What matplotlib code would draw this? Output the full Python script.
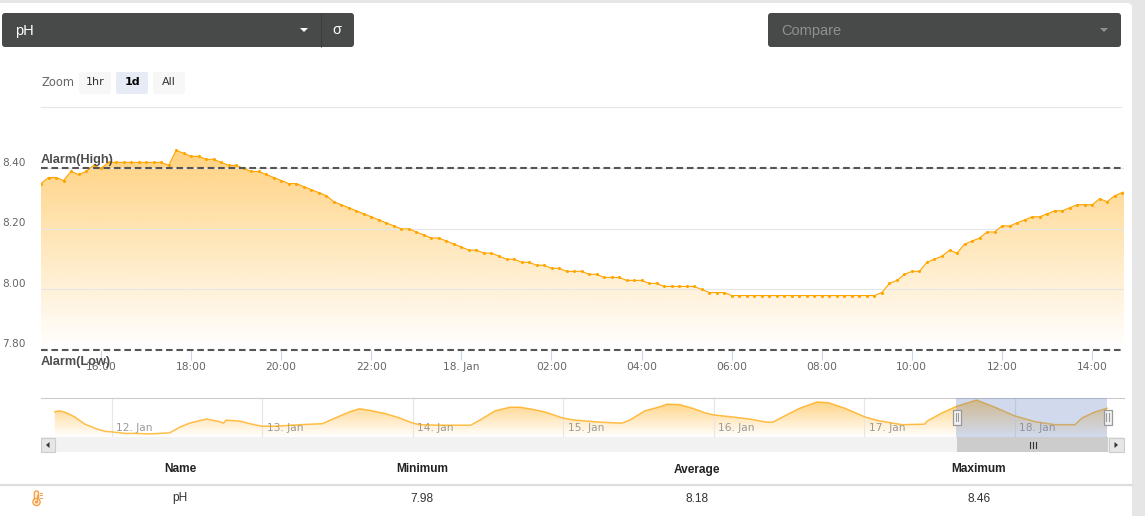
import numpy as np
import matplotlib
matplotlib.use("Agg")
import matplotlib.pyplot as plt
from matplotlib.patches import FancyBboxPatch, Rectangle, Polygon, Circle
from matplotlib.ticker import NullFormatter

# main series, one reading every 10 minutes from 14:40 on 17 Jan
start_hour = 14.67
ph_values = [8.35, 8.37, 8.37, 8.36, 8.39, 8.38, 8.39, 8.41, 8.40, 8.42,
             8.42, 8.42, 8.42, 8.42, 8.42, 8.42, 8.42, 8.41, 8.46, 8.45,
             8.44, 8.44, 8.43, 8.43, 8.42, 8.41, 8.41, 8.40, 8.39, 8.39,
             8.38, 8.37, 8.36, 8.35, 8.35, 8.34, 8.33, 8.32, 8.31, 8.29,
             8.28, 8.27, 8.26, 8.25, 8.24, 8.23, 8.22, 8.21, 8.20, 8.20,
             8.19, 8.18, 8.17, 8.17, 8.16, 8.15, 8.14, 8.13, 8.13, 8.12,
             8.12, 8.11, 8.10, 8.10, 8.09, 8.09, 8.08, 8.08, 8.07, 8.07,
             8.06, 8.06, 8.06, 8.05, 8.05, 8.04, 8.04, 8.04, 8.03, 8.03,
             8.03, 8.02, 8.02, 8.01, 8.01, 8.01, 8.01, 8.01, 8.00, 7.99,
             7.99, 7.99, 7.98, 7.98, 7.98, 7.98, 7.98, 7.98, 7.98, 7.98,
             7.98, 7.98, 7.98, 7.98, 7.98, 7.98, 7.98, 7.98, 7.98, 7.98,
             7.98, 7.98, 7.99, 8.02, 8.03, 8.05, 8.06, 8.06, 8.09, 8.10,
             8.11, 8.13, 8.12, 8.15, 8.16, 8.17, 8.19, 8.19, 8.21, 8.21,
             8.22, 8.23, 8.24, 8.24, 8.25, 8.26, 8.26, 8.27, 8.28, 8.28,
             8.28, 8.30, 8.29, 8.31, 8.32, 8.33]

# navigator series, hours counted from 17 Jan 00:00
nav_hours = [-129.1, -128.4, -127.4, -125.9, -124.3, -122.7, -121.1, -120.0, -117.9, -116.3,
             -114.0, -110.8, -109.2, -107.6, -106.0, -104.9, -102.8, -102.2, -101.8, -99.6,
             -98.0, -96.1, -94.0, -90.0, -86.4, -84.4, -82.1, -80.5, -78.5, -76.5,
             -74.1, -72.0, -70.9, -67.7, -62.8, -61.3, -58.9, -56.5, -54.9, -53.0,
             -51.0, -48.1, -46.2, -42.2, -38.7, -37.4, -35.0, -32.6, -31.5, -29.4,
             -28.9, -27.4, -25.4, -24.0, -21.0, -18.3, -15.6, -14.6, -12.4, -10.3,
             -7.6, -5.8, -3.1, 0.1, 2.2, 6.0, 9.6, 10.0, 12.4, 14.75,
             17.9, 20.8, 24.0, 27.2, 30.4, 33.6, 34.7, 36.8, 38.7]
nav_ph = [8.23, 8.25, 8.22, 8.13, 7.99, 7.91, 7.85, 7.84, 7.81, 7.81,
          7.80, 7.82, 7.93, 8.01, 8.06, 8.09, 8.04, 8.01, 8.07, 8.05,
          8.00, 7.95, 7.95, 7.98, 8.00, 8.11, 8.23, 8.29, 8.25, 8.20,
          8.11, 8.01, 7.98, 7.97, 7.97, 8.07, 8.25, 8.32, 8.32, 8.28,
          8.23, 8.11, 8.07, 8.03, 8.01, 8.07, 8.25, 8.33, 8.38, 8.37,
          8.35, 8.30, 8.21, 8.17, 8.13, 8.09, 8.03, 8.03, 8.17, 8.30,
          8.42, 8.41, 8.30, 8.13, 8.06, 7.98, 7.99, 8.05, 8.21, 8.34,
          8.46, 8.32, 8.15, 8.04, 7.98, 7.98, 8.11, 8.23, 8.30]

x_tick_hours = [16, 18, 20, 22, 24, 26, 28, 30, 32, 34, 36, 38]
x_tick_labels = ["16:00", "18:00", "20:00", "22:00", "18. Jan", "02:00", "04:00",
                 "06:00", "08:00", "10:00", "12:00", "14:00"]
y_ticks = [7.8, 8.0, 8.2, 8.4]
alarm_high = 8.4
alarm_low = 7.8
nav_day_hours = [-120, -96, -72, -48, -24, 0, 24]
nav_day_labels = ["12. Jan", "13. Jan", "14. Jan", "15. Jan", "16. Jan", "17. Jan", "18. Jan"]
table_headers = ["Name", "Minimum", "Average", "Maximum"]
table_row = ["pH", "7.98", "8.18", "8.46"]

W, H = 1145, 516
ORANGE = "#ffa500"
DARK = "#484a49"
SANS = "Liberation Sans"


def px_axes(fig, left, top, right, bottom, **kw):
    return fig.add_axes([left / W, 1 - bottom / H, (right - left) / W, (bottom - top) / H], **kw)


def gradient_fill(ax, x, y, base, top_alpha, top_y, bottom_y):
    # orange fading down to transparent, clipped to the area under the line
    rgb = matplotlib.colors.to_rgb(ORANGE)
    grad = np.zeros((256, 1, 4))
    grad[:, :, 0], grad[:, :, 1], grad[:, :, 2] = rgb
    grad[:, 0, 3] = np.linspace(top_alpha, 0.0, 256)
    xl, xr = ax.get_xlim()
    im = ax.imshow(grad, extent=[xl, xr, bottom_y, top_y], aspect="auto", origin="upper", zorder=1)
    poly = Polygon(list(zip(x, y)) + [(x[-1], base), (x[0], base)], transform=ax.transData,
                   facecolor="none", edgecolor="none")
    ax.add_patch(poly)
    im.set_clip_path(poly)
    ax.set_xlim(xl, xr)


fig = plt.figure(figsize=(W / 100, H / 100), dpi=100, facecolor="#e6e6e6")

# page layer, drawn in pixel coordinates
ui = fig.add_axes([0, 0, 1, 1], zorder=0)
ui.set_xlim(0, W)
ui.set_ylim(H, 0)
ui.axis("off")
ui.add_patch(FancyBboxPatch((-20, 3), 1152, 540, boxstyle="round,pad=0,rounding_size=5",
                            fc="white", ec="none"))


def box(x0, y0, x1, y1, fc, r=3, ec="none"):
    ui.add_patch(FancyBboxPatch((x0, y0), x1 - x0, y1 - y0, boxstyle=f"round,pad=0,rounding_size={r}",
                                fc=fc, ec=ec, lw=0.7))


# dropdowns
box(2, 13, 354, 47, DARK)
ui.plot([320.5, 320.5], [13, 47], color="#3c3d3d", lw=0.8, solid_capstyle="butt")
ui.text(15, 30.5, "pH", color="white", fontsize=10.5, family=SANS, va="center")
ui.add_patch(Polygon([(300, 28), (308, 28), (304, 32)], fc="white", ec="none"))
ui.text(337, 30.5, "σ", color="white", fontsize=10.5, family=SANS, va="center", ha="center")
box(768, 13, 1121, 47, DARK)
ui.text(781, 30.5, "Compare", color="#8f9190", fontsize=10.5, family=SANS, va="center")
ui.add_patch(Polygon([(1100, 28), (1108, 28), (1104, 32)], fc="#8f9190", ec="none"))

# zoom buttons
ui.text(41, 83, "Zoom", color="#666666", fontsize=8.3, va="center")
box(79, 72, 111, 94, "#f7f7f7", r=2)
box(116, 72, 148, 94, "#e6ebf5", r=2)
box(153, 72, 185, 94, "#f7f7f7", r=2)
ui.text(95, 82, "1hr", color="#333333", fontsize=8, ha="center", va="center")
ui.text(132.5, 82, "1d", color="black", fontsize=8, ha="center", va="center", weight="bold")
ui.text(169, 82, "All", color="#333333", fontsize=8, ha="center", va="center")

# main chart
ax = px_axes(fig, 41, 107, 1124, 350, zorder=1)
ax.patch.set_alpha(0)
times = start_hour + np.arange(len(ph_values)) / 6
ax.set_xlim(14.67, 38.71)
ax.set_ylim(7.8, 8.603)
gradient_fill(ax, times, ph_values, 7.8, 0.5, 8.46, 7.8)
ax.plot(times, ph_values, color=ORANGE, lw=0.8, marker="o", ms=1.2, zorder=3)
ax.axhline(alarm_high, color="#555555", lw=1.5, ls=(0, (3.2, 1.8)), zorder=4)
ax.axhline(alarm_low, color="#555555", lw=1.5, ls=(0, (3.2, 1.8)), zorder=4, clip_on=False)
ax.text(0, alarm_high + 0.007, "Alarm(High)", transform=ax.get_yaxis_transform(), color="#4d4d4d",
        fontsize=9.2, weight="bold", family=SANS, va="bottom", zorder=5)
ax.text(0, alarm_low - 0.02, "Alarm(Low)", transform=ax.get_yaxis_transform(), color="#4d4d4d",
        fontsize=9.2, weight="bold", family=SANS, va="top", zorder=5)

ax.set_yticks(y_ticks)
ax.yaxis.set_major_formatter(NullFormatter())
ax.grid(axis="y", color="#e6e6e6", lw=0.8, zorder=2)
ax.tick_params(axis="y", length=0)
for v in y_ticks:
    ax.annotate(f"{v:.2f}", xy=(0, v), xycoords=ax.get_yaxis_transform(),
                xytext=(-39 * 0.72, 4), textcoords="offset points",
                color="#666666", fontsize=7.6, va="center", ha="left", annotation_clip=False)
ax.set_xticks(x_tick_hours)
ax.set_xticklabels(x_tick_labels)
ax.tick_params(axis="x", length=7.2, width=0.8, color="#ccd6eb", labelcolor="#666666",
               labelsize=7.7, pad=1.5)
for s in ax.spines.values():
    s.set_visible(False)

# navigator
nav = px_axes(fig, 41, 398, 1124, 437, zorder=1)
nav.patch.set_alpha(0)
nav.set_xlim(-131.3, 41.4)
nav.set_ylim(7.74, 8.50)
gradient_fill(nav, nav_hours, nav_ph, 7.74, 0.5, 8.46, 7.74)
nav.plot(nav_hours, nav_ph, color=ORANGE, lw=1.1, alpha=0.7, zorder=3)
nav.set_xticks(nav_day_hours)
nav.grid(axis="x", color="#e6e6e6", lw=0.8, zorder=0)
nav.tick_params(length=0, labelbottom=False, labelleft=False)
nav.set_yticks([])
for h, lab in zip(nav_day_hours, nav_day_labels):
    nav.annotate(lab, xy=(h, 7.74), xycoords="data", xytext=(3.2, 3), textcoords="offset points",
                 color="#999999", fontsize=7.7, va="bottom", ha="left", zorder=2)
nav.axvspan(ax.get_xlim()[0], ax.get_xlim()[1], color="#6685c2", alpha=0.3, lw=0, zorder=4)
for s in nav.spines.values():
    s.set_visible(False)
nav.spines["top"].set_visible(True)
nav.spines["top"].set_color("#cccccc")

# scrollbar and handles
sb = fig.add_axes([0, 0, 1, 1], zorder=2)
sb.set_xlim(0, W)
sb.set_ylim(H, 0)
sb.axis("off")
sb.add_patch(Rectangle((41, 437), 1083, 15, fc="#f2f2f2", ec="none"))
sb.add_patch(Rectangle((957, 437), 151, 15, fc="#cccccc", ec="none"))
sb.add_patch(Rectangle((41, 437.5), 14, 14, fc="#e6e6e6", ec="#cccccc", lw=0.8))
sb.add_patch(Rectangle((1108.5, 437.5), 15, 14, fc="#e6e6e6", ec="#cccccc", lw=0.8))
sb.add_patch(Polygon([(49.5, 442), (49.5, 448), (46, 445)], fc="#333333", ec="none"))
sb.add_patch(Polygon([(1114.5, 442), (1114.5, 448), (1118, 445)], fc="#333333", ec="none"))
for dx in (1029.5, 1032.5, 1035.5):
    sb.plot([dx, dx], [442, 447.5], color="#333333", lw=0.8)
for hx in (957, 1107.5):
    sb.add_patch(Rectangle((hx - 4, 409.5), 8, 15, fc="#f2f2f2", ec="#999999", lw=0.9))
    sb.plot([hx - 1.2, hx - 1.2], [413, 421], color="#999999", lw=0.8)
    sb.plot([hx + 1.2, hx + 1.2], [413, 421], color="#999999", lw=0.8)

# header rule above chart and table
ui.plot([41, 1121], [106.5, 106.5], color="#e6e6e6", lw=0.8)
ui.plot([0, 1132], [484.5, 484.5], color="#dddddd", lw=1.6)
col_x = [180, 422, 697, 979]
for cx, head, val in zip(col_x, table_headers, table_row):
    ui.text(cx, 472.5, head, color="#222222", fontsize=8.6, weight="bold", family=SANS, ha="center", va="baseline")
    ui.text(cx, 501.5, val, color="#333333", fontsize=8.6, family=SANS, ha="center", va="baseline")

# thermometer icon
ui.add_patch(FancyBboxPatch((34.4, 491), 4.2, 10, boxstyle="round,pad=0,rounding_size=2",
                            fc="#fff3e0", ec="#f5a04a", lw=1))
ui.add_patch(Circle((36.5, 502), 3.6, fc="#fff3e0", ec="#f5a04a", lw=1))
ui.add_patch(Circle((36.5, 502), 1.6, fc="#f5a04a", ec="none"))
ui.plot([36.5, 36.5], [495, 501], color="#f5a04a", lw=0.8)
for ty in (492.5, 495, 497.5):
    ui.plot([39.5, 41.5], [ty, ty], color="#f5a04a", lw=0.7)

fig.savefig("out.png", dpi=100, facecolor=fig.get_facecolor())
